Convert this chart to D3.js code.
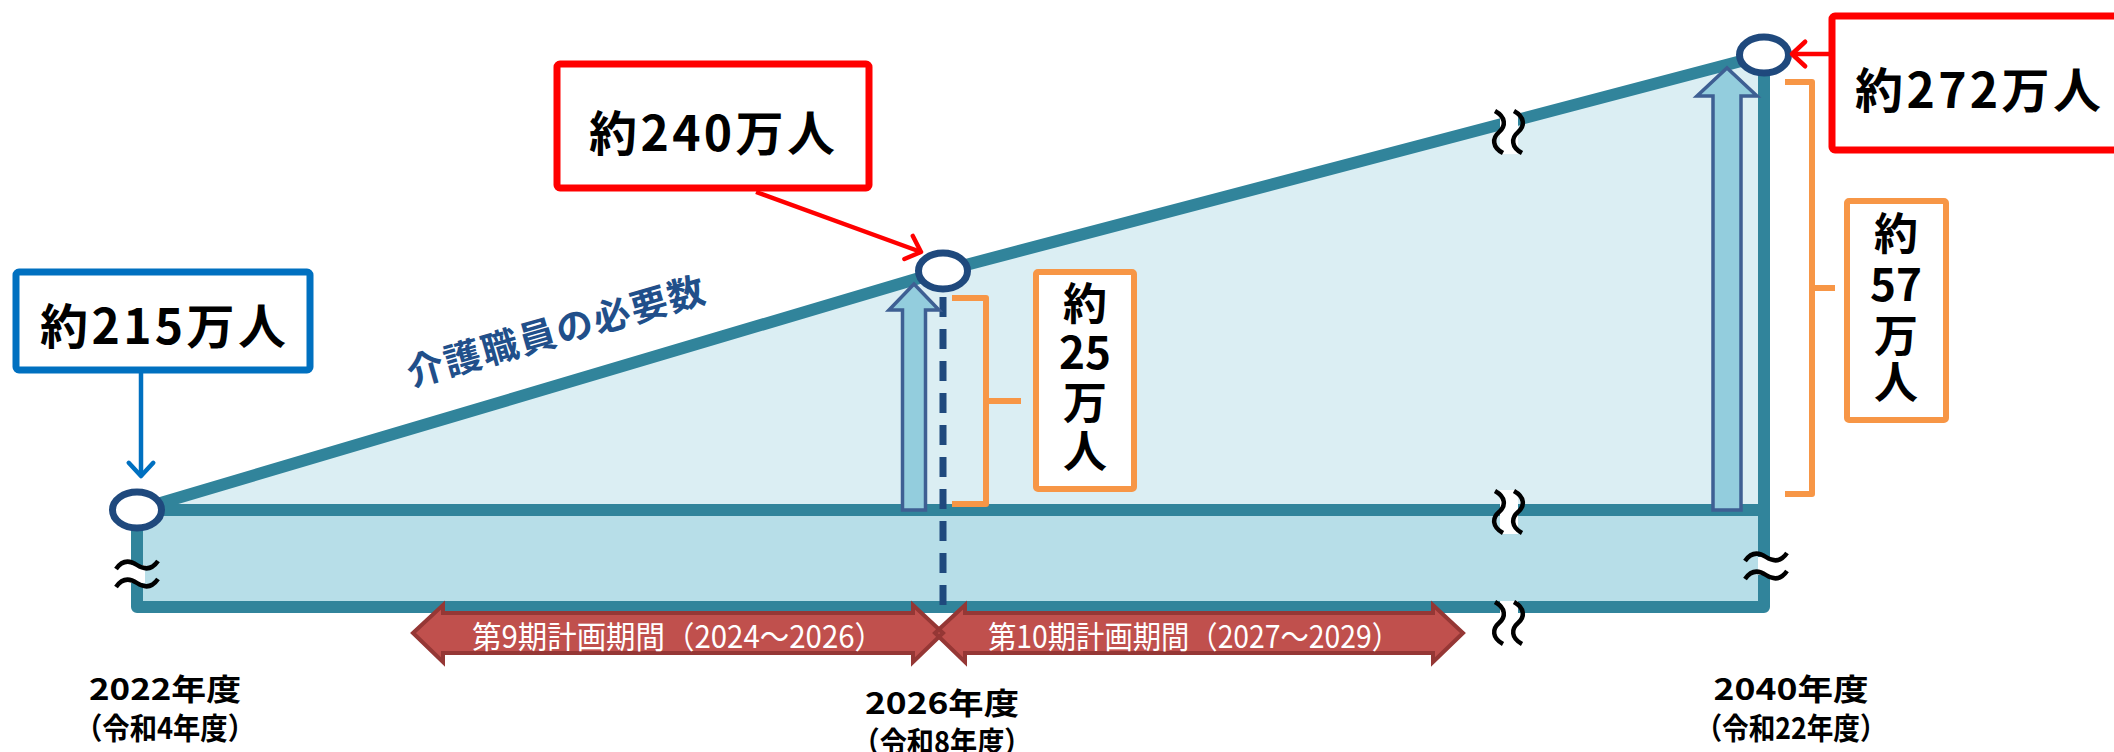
<!DOCTYPE html>
<html>
<head>
<meta charset="utf-8">
<script src="https://cdn.jsdelivr.net/npm/d3@7"></script>
<style>
  body { margin: 0; background: #fff; }
  svg text { font-family: "Noto Sans CJK JP", "Noto Sans", sans-serif; }
</style>
</head>
<body>
<div id="chart"></div>
<script>
// data
const years = [2022, 2026, 2040];
const yearLabels = ["2022年度", "2026年度", "2040年度"];
const eraLabels = ["（令和4年度）", "（令和8年度）", "（令和22年度）"];
const workers = [215, 240, 272];          // 介護職員の必要数（万人）
const calloutLabels = ["約215万人", "約240万人", "約272万人"];
const gapLabels = [["約", "25", "万", "人"], ["約", "57", "万", "人"]];
const periods = ["第9期計画期間（2024～2026）", "第10期計画期間（2027～2029）"];
const seriesLabel = "介護職員の必要数";

const W = 2114, H = 752;
const teal = "#31849B", navy = "#1F497D", orange = "#F79646";

const svg = d3.select("#chart").append("svg")
  .attr("width", W)
  .attr("height", H);

// broken axes: piecewise scales
const x = d3.scaleLinear().domain(years).range([137, 943, 1764]);
const y = d3.scaleLinear().domain(workers).range([510, 271, 55]);
const floorY = 607;

const x0 = x(years[0]), x1 = x(years[1]), x2 = x(years[2]);
const base = y(workers[0]);

// areas
svg.append("path")
  .attr("d", `M${x0},${base}L${x1},${y(workers[1])}L${x2},${y(workers[2])}L${x2},${base}Z`)
  .attr("fill", "#DBEEF3");
svg.append("rect")
  .attr("x", x0).attr("y", base)
  .attr("width", x2 - x0).attr("height", floorY - base)
  .attr("fill", "#B7DEE8");

// frame lines
const line = d3.line().x(d => x(d[0])).y(d => y(d[1]));
svg.append("path")
  .attr("d", line(years.map((yr, i) => [yr, workers[i]])))
  .attr("fill", "none").attr("stroke", teal).attr("stroke-width", 12)
  .attr("stroke-linejoin", "round");
svg.append("path")
  .attr("d", `M${x0},${base}H${x2}M${x0},${base}V${floorY}H${x2}V${y(workers[2])}`)
  .attr("fill", "none").attr("stroke", teal).attr("stroke-width", 12)
  .attr("stroke-linejoin", "round").attr("stroke-linecap", "round");

// dashed line at 2026
svg.append("line")
  .attr("x1", x1).attr("x2", x1)
  .attr("y1", y(workers[1]) + 26).attr("y2", floorY + 4)
  .attr("stroke", navy).attr("stroke-width", 7)
  .attr("stroke-dasharray", "20,12");

// up arrows (increase since 2022)
const upArrows = [
  {i: 1, dx: -29, body: 23, head: 50, headLen: 26},
  {i: 2, dx: -37, body: 28, head: 60, headLen: 28}
];
upArrows.forEach(a => {
  const cx = x(years[a.i]) + a.dx;
  const tip = y(workers[a.i]) + 13;
  const b = a.body / 2, h = a.head / 2;
  svg.append("path")
    .attr("d", `M${cx - b},${base}V${tip + a.headLen}H${cx - h}L${cx},${tip}L${cx + h},${tip + a.headLen}H${cx + b}V${base}Z`)
    .attr("fill", "#93CDDD").attr("stroke", "#3E5F93").attr("stroke-width", 3.5)
    .attr("stroke-linejoin", "miter");
});

// break marks
function vBreak(cx, cy) {
  const g = svg.append("g");
  g.append("rect").attr("x", cx - 9).attr("y", cy - 22).attr("width", 18).attr("height", 44).attr("fill", "#fff");
  [cx - 10, cx + 9].forEach(px => {
    g.append("path")
      .attr("d", `M${px - 4},${cy - 21}C${px + 7},${cy - 15} ${px + 7},${cy - 6} ${px},${cy}C${px - 7},${cy + 6} ${px - 7},${cy + 15} ${px + 4},${cy + 21}`)
      .attr("fill", "none").attr("stroke", "#000").attr("stroke-width", 4.5);
  });
}
function hBreak(cx, cy) {
  const g = svg.append("g");
  g.append("rect").attr("x", cx - 8).attr("y", cy - 9).attr("width", 16).attr("height", 18).attr("fill", "#fff");
  [cy - 9, cy + 9].forEach(py => {
    g.append("path")
      .attr("d", `M${cx - 21},${py + 4}C${cx - 14},${py - 6} ${cx - 6},${py - 4} ${cx},${py}S${cx + 14},${py + 6} ${cx + 21},${py - 4}`)
      .attr("fill", "none").attr("stroke", "#000").attr("stroke-width", 4.5);
  });
}
const xBreak = 1509;
const slopeAt = y(workers[1]) + (xBreak - x1) / (x2 - x1) * (y(workers[2]) - y(workers[1]));
vBreak(xBreak, slopeAt + 10);
vBreak(xBreak, base + 2);
vBreak(xBreak, 623);
hBreak(x0, 574);
hBreak(x2 + 2, 566);

// points
svg.selectAll("ellipse.pt")
  .data(workers)
  .join("ellipse")
  .attr("class", "pt")
  .attr("cx", (d, i) => x(years[i]))
  .attr("cy", d => y(d))
  .attr("rx", 24.5).attr("ry", 18)
  .attr("fill", "#fff").attr("stroke", navy).attr("stroke-width", 7);

// orange brackets + boxes with stacked labels
const brackets = [
  {i: 1, x: 952, w: 34, nub: 35, top: 27, bottom: 6, box: [1036, 272, 98, 217], cx: 1085, rows: [304, 353, 403, 452]},
  {i: 2, x: 1785, w: 27, nub: 23, top: 27, bottom: 16, box: [1847, 201, 99, 219], cx: 1896, rows: [234, 285, 336, 383]}
];
brackets.forEach((b, k) => {
  const t = y(workers[b.i]) + b.top, bt = base - b.bottom, r = b.x + b.w;
  svg.append("path")
    .attr("d", `M${b.x},${t}H${r}V${bt}H${b.x}M${r},${(t + bt) / 2}H${r + b.nub}`)
    .attr("fill", "none").attr("stroke", orange).attr("stroke-width", 6)
    .attr("stroke-linejoin", "round");
  svg.append("rect")
    .attr("x", b.box[0]).attr("y", b.box[1]).attr("width", b.box[2]).attr("height", b.box[3])
    .attr("fill", "#fff").attr("stroke", orange).attr("stroke-width", 6).attr("rx", 2);
  const txt = svg.append("text")
    .attr("text-anchor", "middle")
    .attr("font-size", 44).attr("font-weight", 700);
  txt.selectAll("tspan")
    .data(gapLabels[k])
    .join("tspan")
    .attr("x", b.cx).attr("y", (d, j) => b.rows[j] + 16)
    .text(d => d);
});

// callout boxes and pointer arrows
const callouts = [
  {i: 0, color: "#0070C0", box: [16, 272, 294, 98], tx: 163, ty: 323, from: [141, 370], to: [141, 476]},
  {i: 1, color: "#FF0000", box: [557, 64, 312, 124], tx: 712, ty: 130, from: [756, 192], to: [921, 252]},
  {i: 2, color: "#FF0000", box: [1832, 16, 300, 134], tx: 1978, ty: 87, from: [1832, 54], to: [1792, 54]}
];
callouts.forEach(c => {
  svg.append("line")
    .attr("x1", c.from[0]).attr("y1", c.from[1]).attr("x2", c.to[0]).attr("y2", c.to[1])
    .attr("stroke", c.color).attr("stroke-width", 4.5);
  const ang = Math.atan2(c.to[1] - c.from[1], c.to[0] - c.from[0]);
  const L = 18, spread = 0.75;
  const p1 = [c.to[0] - L * Math.cos(ang - spread), c.to[1] - L * Math.sin(ang - spread)];
  const p2 = [c.to[0] - L * Math.cos(ang + spread), c.to[1] - L * Math.sin(ang + spread)];
  svg.append("path")
    .attr("d", `M${p1}L${c.to}L${p2}`)
    .attr("fill", "none").attr("stroke", c.color).attr("stroke-width", 4.5)
    .attr("stroke-linecap", "round").attr("stroke-linejoin", "round");
  svg.append("rect")
    .attr("x", c.box[0]).attr("y", c.box[1]).attr("width", c.box[2]).attr("height", c.box[3])
    .attr("fill", "#fff").attr("stroke", c.color).attr("stroke-width", 7).attr("rx", 3);
  svg.append("text")
    .attr("x", c.tx).attr("y", c.ty)
    .attr("text-anchor", "middle").attr("dominant-baseline", "central")
    .attr("font-size", 48).attr("font-weight", 700)
    .attr("textLength", 246).attr("lengthAdjust", "spacing")
    .text(calloutLabels[c.i]);
});

// plan period arrows (double-headed)
const arrowSpec = [
  {left: 413, right: x1, tx: 678},
  {left: x1 - 8, right: 1463, tx: 1194}
];
const bTop = 613, bBot = 653, hTop = 605, hBot = 662, mid = 633, hl = 30;
const arrowPath = a =>
  `M${a.left},${mid}L${a.left + hl},${hTop}V${bTop}H${a.right - hl}V${hTop}L${a.right},${mid}` +
  `L${a.right - hl},${hBot}V${bBot}H${a.left + hl}V${hBot}Z`;
svg.selectAll("path.period-fill")
  .data(arrowSpec).join("path").attr("class", "period-fill")
  .attr("d", arrowPath).attr("fill", "#C0504D");
svg.selectAll("path.period-line")
  .data(arrowSpec).join("path").attr("class", "period-line")
  .attr("d", arrowPath).attr("fill", "none")
  .attr("stroke", "#953735").attr("stroke-width", 4).attr("stroke-linejoin", "miter");
svg.selectAll("text.period")
  .data(periods).join("text").attr("class", "period")
  .attr("x", (d, i) => arrowSpec[i].tx).attr("y", mid + 1)
  .attr("text-anchor", "middle").attr("dominant-baseline", "central")
  .attr("font-size", 31).attr("fill", "#fff")
  .attr("textLength", 412).attr("lengthAdjust", "spacingAndGlyphs")
  .text(d => d);

// year labels under the chart
const labelDx = [28, -1, 27], labelDy = [0, 14, 0];
const yearWidth = [152, 154, 155], eraWidth = [180, 179, 191];
svg.selectAll("text.year")
  .data(yearLabels).join("text").attr("class", "year")
  .attr("x", (d, i) => x(years[i]) + labelDx[i]).attr("y", (d, i) => 687 + labelDy[i])
  .attr("text-anchor", "middle").attr("dominant-baseline", "central")
  .attr("font-size", 30).attr("font-weight", 700)
  .attr("textLength", (d, i) => yearWidth[i]).attr("lengthAdjust", "spacingAndGlyphs")
  .text(d => d);
svg.selectAll("text.era")
  .data(eraLabels).join("text").attr("class", "era")
  .attr("x", (d, i) => x(years[i]) + labelDx[i]).attr("y", (d, i) => 726 + labelDy[i])
  .attr("text-anchor", "middle").attr("dominant-baseline", "central")
  .attr("font-size", 30).attr("font-weight", 700)
  .attr("textLength", (d, i) => eraWidth[i]).attr("lengthAdjust", "spacingAndGlyphs")
  .text(d => d);

// series label along the slope
const ang = Math.atan2(y(workers[1]) - y(workers[0]), x1 - x0) * 180 / Math.PI;
svg.append("text")
  .attr("transform", `translate(555,329) rotate(${ang + 0.5})`)
  .attr("text-anchor", "middle").attr("dominant-baseline", "central")
  .attr("font-size", 37).attr("font-weight", 700).attr("fill", "#214F8A")
  .attr("textLength", 308).attr("lengthAdjust", "spacing")
  .text(seriesLabel);
</script>
</body>
</html>
